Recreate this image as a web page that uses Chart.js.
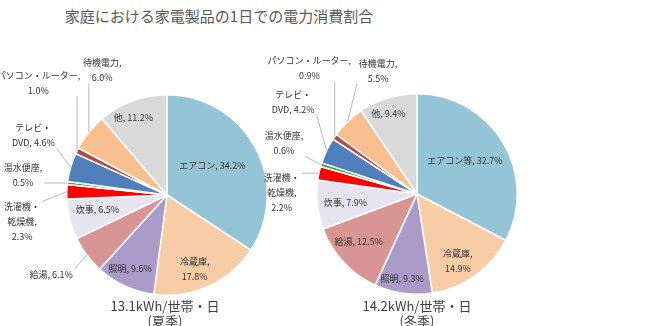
<!DOCTYPE html>
<html lang="ja">
<head>
<meta charset="utf-8">
<script src="https://cdn.jsdelivr.net/npm/chart.js@4.4.1/dist/chart.umd.min.js"></script>
<style>
  html, body { margin: 0; padding: 0; background: #fff; }
  body { width: 650px; height: 326px; position: relative; overflow: hidden; font-family: "Noto Sans CJK JP", sans-serif; }
  #title { position: absolute; left: 0; width: 438px; top: 5px; text-align: center; font-size: 15px; color: #595959; }
  canvas { position: absolute; top: 0; }
  #summerChart { left: 0; }
  #winterChart { left: 255px; }
  .sub { position: absolute; top: 298px; width: 200px; text-align: center; font-size: 13px; line-height: 15px; color: #404040; }
</style>
</head>
<body>
<div id="title">家庭における家電製品の1日での電力消費割合</div>
<canvas id="summerChart" width="280" height="326"></canvas>
<canvas id="winterChart" width="290" height="326"></canvas>
<div class="sub" style="left:65px">13.1kWh/世帯・日<br>(夏季)</div>
<div class="sub" style="left:317px">14.2kWh/世帯・日<br>(冬季)</div>

<script>
// Data
const summerCategories = ["エアコン", "冷蔵庫", "照明", "給湯", "炊事", "洗濯機・\n乾燥機", "温水便座", "テレビ・\nDVD", "パソコン・ルーター", "待機電力", "他"];
const winterCategories = ["エアコン等", "冷蔵庫", "照明", "給湯", "炊事", "洗濯機・\n乾燥機", "温水便座", "テレビ・\nDVD", "パソコン・ルーター", "待機電力", "他"];
const summerValues = [34.2, 17.8, 9.6, 6.1, 6.5, 2.3, 0.5, 4.6, 1.0, 6.0, 11.2];
const winterValues = [32.7, 14.9, 9.3, 12.5, 7.9, 2.2, 0.6, 4.2, 0.9, 5.5, 9.4];

const sliceColors = ["#93c5d7", "#f8cca5", "#ab9bc9", "#d99594", "#e6e4ef", "#ff0000", "#3aa556", "#4f7fbd", "#b84a48", "#f9bf8f", "#d9d9d9"];

// label placement: [angle from top (deg), radius factor, value on new line, leader line]
const summerLabelLayout = [
  [57, 0.54, false, false],
  [159.5, 0.79, true, false],
  [206.6, 0.82, false, false],
  [235.6, 1.40, false, true],
  [257.9, 0.71, false, false],
  [259.5, 1.47, true, true],
  [277.9, 1.45, true, true],
  [294, 1.46, false, true],
  [311, 1.70, true, true],
  [332.5, 1.40, true, true],
  [336.4, 0.84, false, false],
];
const winterLabelLayout = [
  [55.5, 0.58, false, false],
  [148.5, 0.78, true, false],
  [189.9, 0.86, false, false],
  [230.9, 0.75, false, false],
  [262.9, 0.72, false, false],
  [270.8, 1.35, true, true],
  [290.8, 1.42, true, true],
  [306.7, 1.54, false, true],
  [319.4, 1.65, true, true],
  [342.5, 1.29, true, true],
  [340.3, 0.85, false, false],
];

// Label plugin
const sliceLabels = {
  id: "sliceLabels",
  afterDatasetsDraw(chart, args, opts) {
    const ctx = chart.ctx;
    const meta = chart.getDatasetMeta(0);
    const values = chart.data.datasets[0].data;
    const lineH = 15;
    ctx.save();
    ctx.font = "9px 'Noto Sans CJK JP'";
    ctx.fillStyle = "#333";
    ctx.textAlign = "center";
    ctx.textBaseline = "middle";

    meta.data.forEach((arc, i) => {
      const p = arc.getProps(["x", "y", "startAngle", "endAngle", "outerRadius"], true);
      const [deg, rf, breakValue, leader] = opts.layout[i];
      const a = deg * Math.PI / 180;
      const cx = p.x + rf * p.outerRadius * Math.sin(a);
      const cy = p.y - rf * p.outerRadius * Math.cos(a);

      const text = chart.data.labels[i] + "," + (breakValue ? "\n" : " ") + values[i].toFixed(1) + "%";
      const lines = text.split("\n");
      const top = cy - (lines.length * lineH) / 2;
      let w = 0;
      lines.forEach((ln, k) => {
        w = Math.max(w, ctx.measureText(ln).width);
        ctx.fillText(ln, cx, top + lineH * (k + 0.5));
      });

      if (leader) {
        const mid = (p.startAngle + p.endAngle) / 2;
        const ex = p.x + p.outerRadius * Math.cos(mid);
        const ey = p.y + p.outerRadius * Math.sin(mid);
        const left = cx - w / 2 - 2, right = cx + w / 2 + 2;
        const bottom = top + lines.length * lineH - 2;
        const sx = Math.min(Math.max(ex, left), right);
        const sy = Math.min(Math.max(ey, top + 2), bottom);
        ctx.strokeStyle = "#a6a6a6";
        ctx.lineWidth = 0.8;
        ctx.beginPath();
        ctx.moveTo(sx, sy);
        ctx.lineTo(ex, ey);
        ctx.stroke();
      }
    });
    ctx.restore();
  },
};

function makePie(id, categories, values, layout, padding) {
  return new Chart(document.getElementById(id), {
    type: "pie",
    data: {
      labels: categories,
      datasets: [{
        data: values,
        backgroundColor: sliceColors,
        borderColor: "#ffffff",
        borderWidth: 1.5,
      }],
    },
    options: {
      responsive: false,
      animation: false,
      layout: { padding: padding },
      plugins: {
        legend: { display: false },
        tooltip: { enabled: false },
        sliceLabels: { layout: layout },
      },
    },
    plugins: [sliceLabels],
  });
}

makePie("summerChart", summerCategories, summerValues, summerLabelLayout, { left: 66, right: 12, top: 94, bottom: 30 });
makePie("winterChart", winterCategories, winterValues, winterLabelLayout, { left: 61, right: 27, top: 93, bottom: 31 });
</script>
</body>
</html>
